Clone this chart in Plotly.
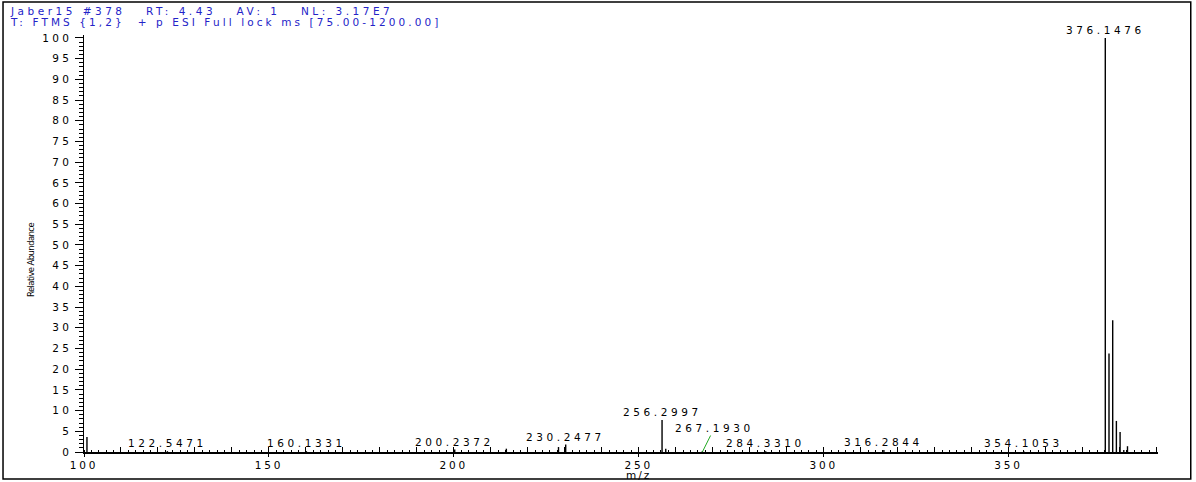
import plotly.graph_objects as go

# ---- data ----
mz = [100.8, 122.5471, 160.1331, 200.2372, 214.2, 228.3, 230.2477, 256.2997, 257.3,
      267.1930, 284.3310, 316.2844, 354.1053,
      376.1476, 377.15, 378.15, 379.15, 380.15, 381.15, 382.15]
intensity = [3.6, 0.2, 0.2, 0.6, 0.8, 1.2, 1.8, 7.7, 0.8,
             0.2, 0.2, 0.5, 0.2,
             100.0, 23.8, 31.8, 7.5, 4.8, 0.5, 1.4]
labeled_mz = [122.5471, 160.1331, 200.2372, 230.2477, 256.2997, 267.1930,
              284.3310, 316.2844, 354.1053, 376.1476]
labeled_text = ["122.5471", "160.1331", "200.2372", "230.2477", "256.2997", "267.1930",
                "284.3310", "316.2844", "354.1053", "376.1476"]
leader_mz = [267.1930]
y_ticks = list(range(0, 101, 5))
x_ticks = [100, 150, 200, 250, 300, 350]
header_line1 = "Jaber15 #378   RT: 4.43   AV: 1   NL: 3.17E7"
header_line2 = "T: FTMS {1,2}  + p ESI Full lock ms [75.00-1200.00]"
y_title = "Relative Abundance"
x_title = "m/z"

FONT = "DejaVu Sans"
LS = 3.6


def sp(t, ls=LS):
    return f'<span style="letter-spacing:{ls}px">{t}</span>'


# stick spectrum built from data
xs, ys = [], []
for m, i in zip(mz, intensity):
    xs += [m, m, None]
    ys += [0, i, None]

fig = go.Figure()
fig.add_trace(go.Scatter(x=xs, y=ys, mode="lines",
                         line=dict(color="black", width=1.4),
                         hoverinfo="skip", showlegend=False))
# dummy trace for the overlay tick axis
fig.add_trace(go.Scatter(x=[], y=[], xaxis="x2", yaxis="y", showlegend=False))

inten_of = dict(zip(mz, intensity))
annotations = []
for m, t in zip(labeled_mz, labeled_text):
    if m in leader_mz:
        annotations.append(dict(
            x=m, y=0, xref="x", yref="y", text=sp(t), showarrow=True,
            arrowhead=0, arrowwidth=1, arrowcolor="#22aa22", ax=12, ay=-24,
            standoff=0, font=dict(family=FONT, size=10.5, color="black")))
    else:
        annotations.append(dict(
            x=m, y=inten_of[m], xref="x", yref="y", text=sp(t), showarrow=False,
            xanchor="center", yanchor="bottom", yshift=0,
            font=dict(family=FONT, size=10.5, color="black")))

# header
annotations.append(dict(x=-0.0705, y=1.0576, xref="paper", yref="paper",
                        text=sp(header_line1, 3.5), showarrow=False,
                        xanchor="left", yanchor="middle",
                        font=dict(family=FONT, size=10.5, color="#2323c8")))
annotations.append(dict(x=-0.0705, y=1.0312, xref="paper", yref="paper",
                        text=sp(header_line2, 3.1), showarrow=False,
                        xanchor="left", yanchor="middle",
                        font=dict(family=FONT, size=10.5, color="#2323c8")))
# axis titles
annotations.append(dict(x=-0.0495, y=0.46, xref="paper", yref="paper",
                        text=sp(y_title, -0.6), showarrow=False, textangle=-90,
                        xanchor="center", yanchor="middle",
                        font=dict(family=FONT, size=8.5, color="black")))
annotations.append(dict(x=250, y=-0.055, xref="x", yref="paper",
                        text=sp(x_title, 2), showarrow=False,
                        xanchor="center", yanchor="middle",
                        font=dict(family=FONT, size=10.5, color="black")))

fig.update_layout(
    width=1196, height=482,
    margin=dict(l=84, r=38, t=35, b=30, autoexpand=False),
    paper_bgcolor="white", plot_bgcolor="white",
    showlegend=False,
    annotations=annotations,
    xaxis=dict(range=[100, 390.4], showgrid=False, zeroline=False, automargin=False,
               showline=True, linecolor="black", linewidth=1.5,
               tickmode="array", tickvals=x_ticks,
               ticktext=[sp(v, 2.8) for v in x_ticks],
               ticks="outside", ticklen=3, tickcolor="black", tickwidth=1,
               tickfont=dict(family=FONT, size=10.5, color="black"),
               minor=dict(dtick=2, tick0=100, ticks="inside", ticklen=2,
                          tickcolor="black", tickwidth=1),
               fixedrange=True),
    xaxis2=dict(range=[100, 390.4], overlaying="x", anchor="y", side="bottom",
                showgrid=False, zeroline=False, showline=False, automargin=False,
                showticklabels=False, tick0=100, dtick=10,
                ticks="inside", ticklen=5, tickcolor="black", tickwidth=1),
    yaxis=dict(range=[0, 100.7], showgrid=False, zeroline=False, automargin=False,
               showline=True, linecolor="black", linewidth=1.5,
               tickmode="array", tickvals=y_ticks,
               ticktext=[sp(v, 3.4) for v in y_ticks],
               ticks="outside", ticklen=8, tickcolor="black", tickwidth=1,
               tickfont=dict(family=FONT, size=10.5, color="black"),
               minor=dict(dtick=1, ticks="outside", ticklen=4,
                          tickcolor="black", tickwidth=1),
               fixedrange=True),
    shapes=[dict(type="rect", xref="paper", yref="paper",
                 x0=-0.0754, x1=1.0305, y0=-0.0647, y1=1.079,
                 line=dict(color="black", width=1.5))],
)

fig.write_html("out.html",
               config={"displayModeBar": False, "staticPlot": True},
               post_script="document.body.style.margin='0px';"
                           "document.body.style.overflow='hidden';")
